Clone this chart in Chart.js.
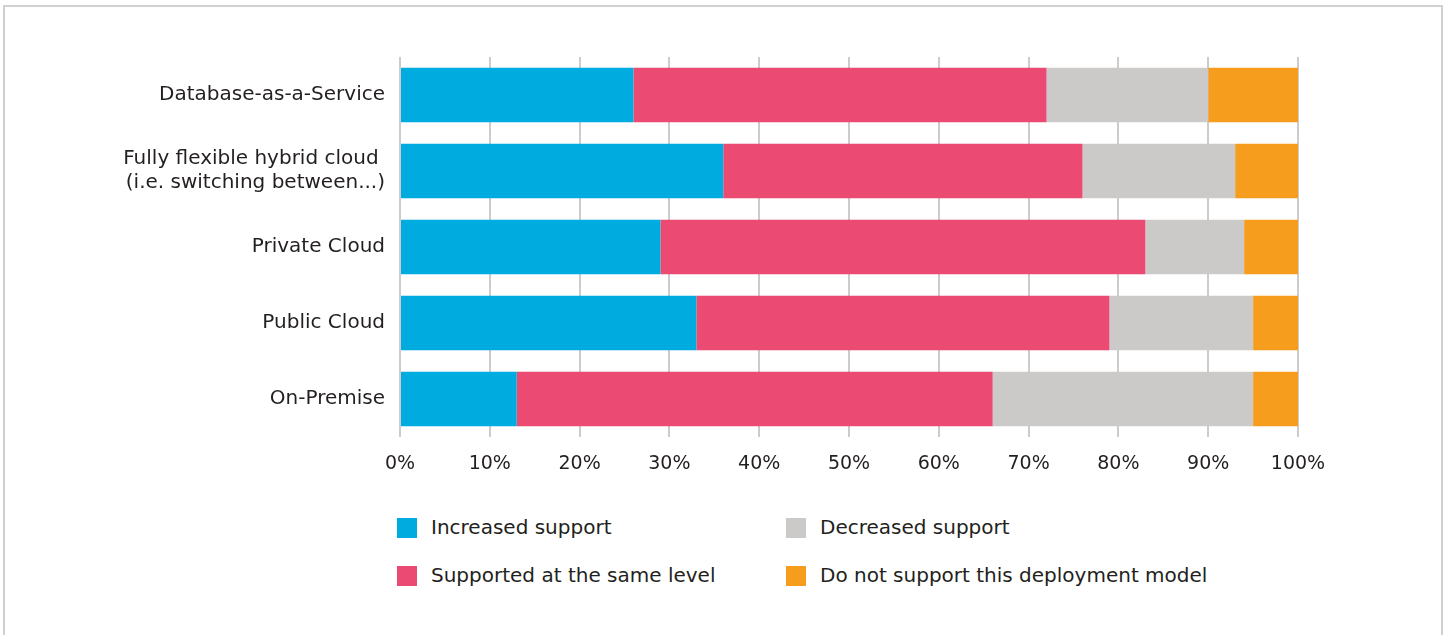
<!DOCTYPE html>
<html>
<head>
<meta charset="utf-8">
<script src="https://cdn.jsdelivr.net/npm/chart.js@4"></script>
<style>
  body { margin: 0; background: #fff; }
  #wrap { position: relative; width: 1445px; height: 635px; overflow: hidden; }
  #frame { position: absolute; left: 3px; top: 5px; width: 1436px; height: 640px;
           border-left: 2px solid #d0d0d0; border-top: 2px solid #d0d0d0; border-right: 2px solid #d0d0d0; }
  #chartBox { position: absolute; left: 0; top: 0; width: 1445px; height: 490px; }
  .leg { position: absolute; font-family: "DejaVu Sans", sans-serif; font-size: 20px; color: #231f20; }
  .leg span { position: absolute; left: 0; top: 0; width: 20px; height: 20px; }
  .leg div { position: absolute; left: 34px; top: -3px; white-space: nowrap; }
</style>
</head>
<body>
<div id="wrap">
  <div id="frame"></div>
  <div id="chartBox"><canvas id="myChart"></canvas></div>
  <div id="legend"></div>
</div>
<script>
// categories and values (percent of respondents)
const categories = [
  'Database-as-a-Service',
  ['Fully flexible hybrid cloud ', '(i.e. switching between...)'],
  'Private Cloud',
  'Public Cloud',
  'On-Premise'
];
const seriesNames = ['Increased support', 'Supported at the same level', 'Decreased support', 'Do not support this deployment model'];
const increased = [26, 36, 29, 33, 13];
const sameLevel = [46, 40, 54, 46, 53];
const decreased = [18, 17, 11, 16, 29];
const notSupported = [10, 7, 6, 5, 5];
const xTicks = [0, 10, 20, 30, 40, 50, 60, 70, 80, 90, 100];

const barColors = ['#00abdf', '#eb4a72', '#cbcac8', '#f79d1e'];
const allValues = [increased, sameLevel, decreased, notSupported];

const font = '"DejaVu Sans", sans-serif';

var myChart = new Chart('myChart', {
  type: 'bar',
  data: {
    labels: categories,
    datasets: seriesNames.map((name, i) => ({
      label: name,
      data: allValues[i],
      backgroundColor: barColors[i],
      borderWidth: 0,
      categoryPercentage: 1,
      barPercentage: 0.72
    }))
  },
  options: {
    indexAxis: 'y',
    responsive: true,
    maintainAspectRatio: false,
    animation: false,
    layout: { padding: { left: 0, right: 147, top: 57, bottom: 0 } },
    plugins: {
      legend: { display: false },
      tooltip: { enabled: false }
    },
    scales: {
      x: {
        stacked: true,
        min: 0,
        max: 100,
        afterBuildTicks: (scale) => { scale.ticks = xTicks.map(v => ({ value: v })); },
        afterFit: (scale) => { scale.height = 53; },
        grid: { color: '#cccccc', lineWidth: 2, drawTicks: false },
        border: { display: false },
        ticks: {
          padding: 16,
          color: '#231f20',
          font: { family: font, size: 19 },
          callback: (v) => v + '%'
        }
      },
      y: {
        stacked: true,
        afterFit: (scale) => { scale.width = 400; },
        grid: { display: false },
        border: { display: false },
        ticks: {
          padding: 7,
          color: '#231f20',
          font: { family: font, size: 20, lineHeight: 1.2 }
        }
      }
    }
  }
});

// legend in two columns
const legendPos = [[397, 518], [397, 566], [786, 518], [786, 566]];
let html = '';
seriesNames.forEach((name, k) => {
  html += `<div class="leg" style="left:${legendPos[k][0]}px;top:${legendPos[k][1]}px">` +
          `<span style="background:${barColors[k]}"></span><div>${name}</div></div>`;
});
document.getElementById('legend').innerHTML = html;
</script>
</body>
</html>
